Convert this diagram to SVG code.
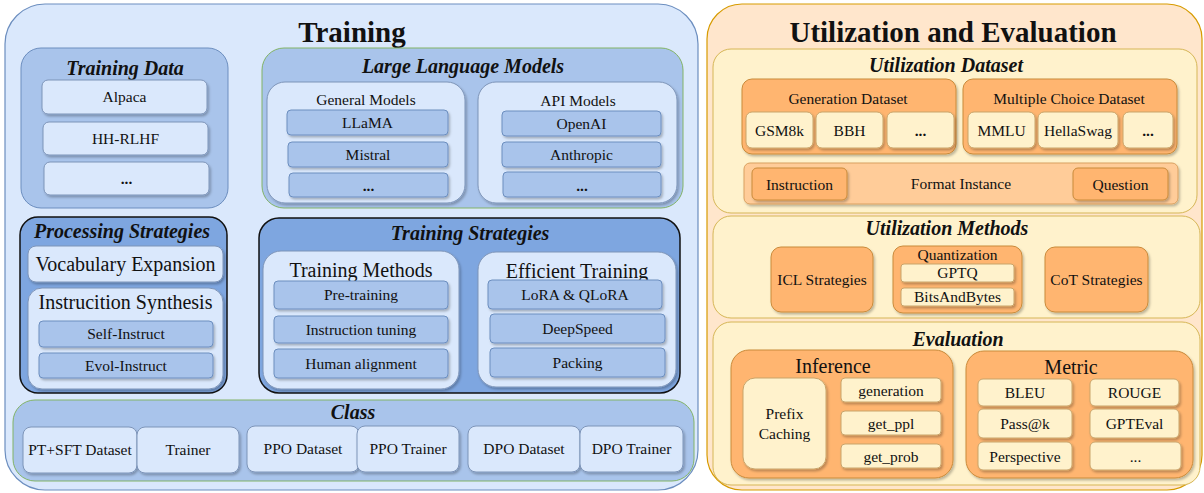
<svg xmlns="http://www.w3.org/2000/svg" width="1204" height="493" viewBox="0 0 1204 493">
<defs>
<filter id="sh" x="-10%" y="-10%" width="130%" height="140%">
<feDropShadow dx="1.5" dy="2" stdDeviation="1" flood-color="#000" flood-opacity="0.25"/>
</filter>
</defs>
<style>
text{font-family:"Liberation Serif","Times New Roman",serif;text-anchor:middle;fill:#111}
.big{font-size:29px;font-weight:bold}
.hd{font-size:20px;font-weight:bold;font-style:italic}
.sub{font-size:20px}
.t{font-size:15.5px}
.b{font-weight:bold}
.outB{fill:#dae8fc;stroke:#6c8ebf;stroke-width:1.2}
.midB{fill:#a9c4eb;stroke:#6c8ebf;stroke-width:1}
.midG{fill:#a9c4eb;stroke:#82b366;stroke-width:1}
.darkB{fill:#7ea6e0;stroke:#111;stroke-width:1.5}
.ltB{fill:#dae8fc;stroke:#7d94b8;stroke-width:1;filter:url(#sh)}
.itB{fill:#a9c4eb;stroke:#6c8ebf;stroke-width:1;filter:url(#sh)}
.outO{fill:#ffe6cc;stroke:#d79b00;stroke-width:1.2}
.ylw{fill:#fff2cc;stroke:#d6b656;stroke-width:1}
.org{fill:#ffb570;stroke:#c98a3a;stroke-width:1;filter:url(#sh)}
.ltO{fill:#ffcc99;stroke:#d9a060;stroke-width:1;filter:url(#sh)}
.itY{fill:#fff2cc;stroke:#c9a46a;stroke-width:1;filter:url(#sh)}
</style>
<g id="connectors"/>

<g id="training">
<rect class="outB" x="5" y="4" width="693" height="486" rx="40"/>
<text class="big" x="352" y="42">Training</text>
</g>

<g id="training-data">
<rect class="midB" x="21" y="48" width="207" height="160" rx="20"/>
<text class="hd" x="125" y="75">Training Data</text>
<rect class="ltB" x="42" y="80" width="165" height="34" rx="6"/>
<text class="t" x="124.5" y="102">Alpaca</text>
<rect class="ltB" x="43" y="122" width="165" height="33" rx="6"/>
<text class="t" x="125.5" y="144">HH-RLHF</text>
<rect class="ltB" x="44" y="162" width="165" height="33" rx="6"/>
<text class="t b" x="126.5" y="184">...</text>
</g>

<g id="llm">
<rect class="midG" x="262" y="48" width="421" height="160" rx="22"/>
<text class="hd" x="463" y="73">Large Language Models</text>
<rect class="ltB" x="267" y="82" width="198" height="121" rx="18"/>
<text class="t" x="366" y="105">General Models</text>
<rect class="itB" x="287" y="110" width="161" height="25" rx="4"/>
<text class="t" x="367.5" y="128">LLaMA</text>
<rect class="itB" x="288" y="142" width="160" height="25" rx="4"/>
<text class="t" x="368" y="160">Mistral</text>
<rect class="itB" x="289" y="173" width="159" height="24" rx="4"/>
<text class="t b" x="368.5" y="191">...</text>
<rect class="ltB" x="478" y="82" width="199" height="121" rx="18"/>
<text class="t" x="578" y="106">API Models</text>
<rect class="itB" x="502" y="111" width="159" height="25" rx="4"/>
<text class="t" x="581.5" y="129">OpenAI</text>
<rect class="itB" x="502" y="142" width="159" height="25" rx="4"/>
<text class="t" x="581.5" y="160">Anthropic</text>
<rect class="itB" x="503" y="172" width="158" height="25" rx="4"/>
<text class="t b" x="582" y="191">...</text>
</g>

<g id="processing">
<rect class="darkB" x="20" y="217" width="207" height="176" rx="18"/>
<text class="hd" x="122" y="238">Processing Strategies</text>
<rect class="ltB" x="28" y="246" width="195" height="36" rx="8"/>
<text class="sub" x="125.5" y="271">Vocabulary Expansion</text>
<rect class="ltB" x="28" y="288" width="195" height="101" rx="14"/>
<text class="sub" x="125.5" y="309">Instrucition Synthesis</text>
<rect class="itB" x="39" y="321" width="174" height="26" rx="4"/>
<text class="t" x="126" y="339">Self-Instruct</text>
<rect class="itB" x="39" y="353" width="174" height="25" rx="4"/>
<text class="t" x="126" y="371">Evol-Instruct</text>
</g>

<g id="training-strategies">
<rect class="darkB" x="259" y="218" width="421" height="175" rx="20"/>
<text class="hd" x="470" y="240">Training Strategies</text>
<rect class="ltB" x="263" y="251" width="196" height="138" rx="18"/>
<text class="sub" x="361" y="277">Training Methods</text>
<rect class="itB" x="274" y="281" width="174" height="28" rx="4"/>
<text class="t" x="361" y="300">Pre-training</text>
<rect class="itB" x="274" y="316" width="174" height="27" rx="4"/>
<text class="t" x="361" y="335">Instruction tuning</text>
<rect class="itB" x="274" y="349" width="174" height="29" rx="4"/>
<text class="t" x="361" y="369">Human alignment</text>
<rect class="ltB" x="478" y="252" width="198" height="135" rx="18"/>
<text class="sub" x="577" y="278">Efficient Training</text>
<rect class="itB" x="488" y="280" width="174" height="29" rx="4"/>
<text class="t" x="575" y="300">LoRA &amp; QLoRA</text>
<rect class="itB" x="490" y="314" width="175" height="29" rx="4"/>
<text class="t" x="577.5" y="334">DeepSpeed</text>
<rect class="itB" x="490" y="348" width="175" height="29" rx="4"/>
<text class="t" x="577.5" y="368">Packing</text>
</g>

<g id="class">
<rect class="midG" x="13" y="400" width="681" height="81" rx="22"/>
<text class="hd" x="353" y="419">Class</text>
<rect class="ltB" x="23" y="427" width="114" height="46" rx="8"/>
<text class="t" x="80" y="455">PT+SFT Dataset</text>
<rect class="ltB" x="137" y="427" width="102" height="46" rx="8"/>
<text class="t" x="188" y="455">Trainer</text>
<rect class="ltB" x="247" y="426" width="112" height="46" rx="8"/>
<text class="t" x="303" y="454">PPO Dataset</text>
<rect class="ltB" x="357" y="426" width="102" height="46" rx="8"/>
<text class="t" x="408" y="454">PPO Trainer</text>
<rect class="ltB" x="468" y="426" width="112" height="46" rx="8"/>
<text class="t" x="524" y="454">DPO Dataset</text>
<rect class="ltB" x="580" y="426" width="103" height="46" rx="8"/>
<text class="t" x="631.5" y="454">DPO Trainer</text>
</g>

<g id="utilization-evaluation">
<rect class="outO" x="707" y="4" width="495" height="486" rx="35"/>
<text class="big" x="953" y="42">Utilization and Evaluation</text>
</g>

<g id="utilization-dataset">
<rect class="ylw" x="713" y="49" width="484" height="164" rx="18"/>
<text class="hd" x="946" y="72">Utilization Dataset</text>
<rect class="org" x="742" y="79" width="214" height="75" rx="10"/>
<text class="t" x="848" y="104">Generation Dataset</text>
<rect class="itY" x="746" y="112" width="67" height="36" rx="6"/>
<text class="t" x="779.5" y="136">GSM8k</text>
<rect class="itY" x="816" y="112" width="67" height="36" rx="6"/>
<text class="t" x="849.5" y="136">BBH</text>
<rect class="itY" x="887" y="112" width="67" height="36" rx="6"/>
<text class="t b" x="920.5" y="136">...</text>
<rect class="org" x="963" y="79" width="214" height="75" rx="10"/>
<text class="t" x="1069" y="104">Multiple Choice Dataset</text>
<rect class="itY" x="968" y="112" width="67" height="36" rx="6"/>
<text class="t" x="1001.5" y="136">MMLU</text>
<rect class="itY" x="1038" y="112" width="80" height="36" rx="6"/>
<text class="t" x="1078" y="136">HellaSwag</text>
<rect class="itY" x="1123" y="112" width="50" height="36" rx="6"/>
<text class="t b" x="1148" y="136">...</text>
<rect class="ltO" x="744" y="163" width="434" height="41" rx="6"/>
<text class="t" x="961" y="189">Format Instance</text>
<rect class="org" x="752" y="168" width="95" height="32" rx="5"/>
<text class="t" x="799.5" y="190">Instruction</text>
<rect class="org" x="1073" y="168" width="95" height="32" rx="5"/>
<text class="t" x="1120.5" y="190">Question</text>
</g>

<g id="utilization-methods">
<rect class="ylw" x="713" y="216" width="487" height="102" rx="18"/>
<text class="hd" x="947" y="235">Utilization Methods</text>
<rect class="org" x="771" y="247" width="102" height="65" rx="10"/>
<text class="t" x="822" y="285">ICL Strategies</text>
<rect class="org" x="893" y="246" width="129" height="67" rx="10"/>
<text class="t" x="957.5" y="260">Quantization</text>
<rect class="itY" x="901" y="264" width="113" height="18" rx="3"/>
<text class="t" x="957.5" y="278">GPTQ</text>
<rect class="itY" x="901" y="288" width="113" height="18" rx="3"/>
<text class="t" x="957.5" y="302">BitsAndBytes</text>
<rect class="org" x="1045" y="247" width="103" height="65" rx="10"/>
<text class="t" x="1096.5" y="285">CoT Strategies</text>
</g>

<g id="evaluation">
<rect class="ylw" x="713" y="322" width="487" height="163" rx="18"/>
<text class="hd" x="958" y="346">Evaluation</text>
<rect class="org" x="731" y="350" width="222" height="128" rx="18"/>
<text class="sub" x="833" y="373">Inference</text>
<rect class="itY" x="743" y="378" width="83" height="91" rx="12"/>
<text class="t" x="784.5" y="419">Prefix</text>
<text class="t" x="784.5" y="439">Caching</text>
<rect class="itY" x="841" y="378" width="100" height="24" rx="4"/>
<text class="t" x="891" y="396">generation</text>
<rect class="itY" x="841" y="411" width="100" height="24" rx="4"/>
<text class="t" x="891" y="429">get_ppl</text>
<rect class="itY" x="841" y="444" width="100" height="24" rx="4"/>
<text class="t" x="891" y="462">get_prob</text>
<rect class="org" x="966" y="351" width="227" height="127" rx="18"/>
<text class="sub" x="1071" y="374">Metric</text>
<rect class="itY" x="978" y="379" width="94" height="27" rx="5"/>
<text class="t" x="1025" y="398">BLEU</text>
<rect class="itY" x="1090" y="379" width="89" height="27" rx="5"/>
<text class="t" x="1134.5" y="398">ROUGE</text>
<rect class="itY" x="978" y="409" width="94" height="29" rx="5"/>
<text class="t" x="1025" y="429">Pass@k</text>
<rect class="itY" x="1090" y="409" width="89" height="29" rx="5"/>
<text class="t" x="1134.5" y="429">GPTEval</text>
<rect class="itY" x="978" y="442" width="94" height="28" rx="5"/>
<text class="t" x="1025" y="462">Perspective</text>
<rect class="itY" x="1090" y="442" width="91" height="28" rx="5"/>
<text class="t" x="1135.5" y="462">...</text>
</g>
</svg>
